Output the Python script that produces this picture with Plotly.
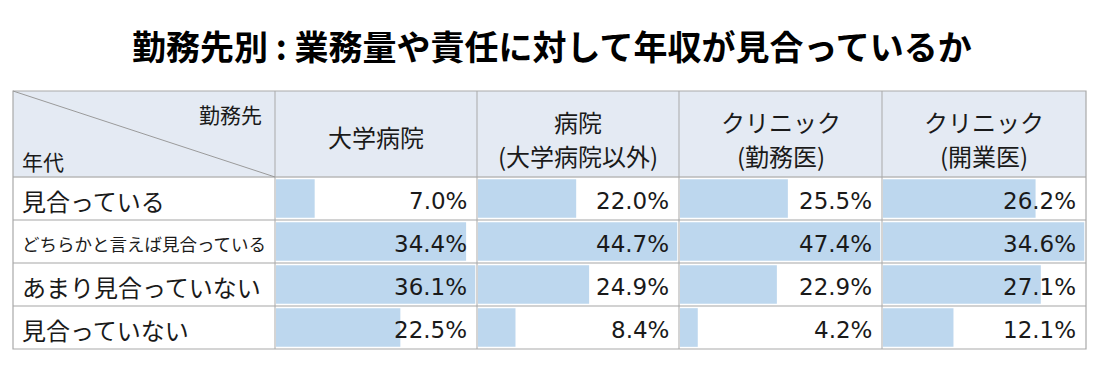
import plotly.graph_objects as go

# ---- data ----
title_text = "勤務先別 : 業務量や責任に対して年収が見合っているか"
corner_top = "勤務先"
corner_bottom = "年代"
columns = ["大学病院", "病院\n(大学病院以外)", "クリニック\n(勤務医)", "クリニック\n(開業医)"]
rows = ["見合っている", "どちらかと言えば見合っている", "あまり見合っていない", "見合っていない"]
univ_hospital = [7.0, 34.4, 36.1, 22.5]
hospital_other = [22.0, 44.7, 24.9, 8.4]
clinic_employed = [25.5, 47.4, 22.9, 4.2]
clinic_owner = [26.2, 34.6, 27.1, 12.1]
series = [univ_hospital, hospital_other, clinic_employed, clinic_owner]

# ---- geometry (page pixels) ----
PAGE_W, PAGE_H = 1101, 383
OFF = 8  # default body margin of the page
W, H = PAGE_W - 2 * OFF, PAGE_H - 2 * OFF
col_edges = [13, 275, 477, 679, 882, 1086]
row_edges = [91, 177, 220, 263, 306, 349]

def px(x):
    return (x - OFF) / W

def py(y):
    return 1 - (y - OFF) / H

BAR = "#bdd7ee"
HEAD_BG = "#e4eaf3"
BORDER = "#a9a9a9"
ROWLINE = "#d2d2d2"
JP = "Noto Sans CJK JP"
NUM = "DejaVu Sans"

fig = go.Figure()

for i, vals in enumerate(series):
    axn = "" if i == 0 else str(i + 1)
    fig.add_trace(go.Bar(
        x=vals, y=rows, orientation="h",
        marker=dict(color=BAR, line=dict(width=0)),
        xaxis="x" + axn, yaxis="y", hoverinfo="skip", showlegend=False,
    ))
    fig.update_layout(**{
        "xaxis" + axn: dict(
            domain=[px(col_edges[i + 1] + 1), px(col_edges[i + 2] - 1.5)],
            range=[0, max(vals)], visible=False, fixedrange=True,
            anchor="y",
        )
    })
    for r, v in zip(rows, vals):
        fig.add_annotation(
            x=1, xref="x" + axn + " domain", y=r, yref="y",
            text=f"{v:.1f}%", showarrow=False, xanchor="right",
            xshift=-7, yshift=-2,
            font=dict(family=NUM, size=23, color="#1a1a1a"),
        )

fig.update_layout(
    yaxis=dict(
        domain=[py(row_edges[5]), py(row_edges[1])],
        categoryorder="array", categoryarray=rows, autorange="reversed",
        visible=False, fixedrange=True,
    ),
    bargap=0.1,
)

shapes = []
shapes.append(dict(type="rect", xref="paper", yref="paper", layer="below",
                   x0=px(col_edges[0]), x1=px(col_edges[-1]),
                   y0=py(row_edges[1]), y1=py(row_edges[0]),
                   fillcolor=HEAD_BG, line=dict(width=0)))
for yy in row_edges[2:5]:
    shapes.append(dict(type="line", xref="paper", yref="paper", layer="above",
                       x0=px(col_edges[0]), x1=px(col_edges[-1]), y0=py(yy), y1=py(yy),
                       line=dict(color=ROWLINE, width=2)))
shapes.append(dict(type="line", xref="paper", yref="paper", layer="above",
                   x0=px(col_edges[0]), x1=px(col_edges[-1]),
                   y0=py(row_edges[1]), y1=py(row_edges[1]),
                   line=dict(color="#b8b8b8", width=1.5)))
for xx in col_edges[1:-1]:
    shapes.append(dict(type="line", xref="paper", yref="paper", layer="above",
                       x0=px(xx), x1=px(xx), y0=py(row_edges[0]), y1=py(row_edges[-1]),
                       line=dict(color=BORDER, width=1)))
shapes.append(dict(type="rect", xref="paper", yref="paper", layer="above",
                   x0=px(col_edges[0]), x1=px(col_edges[-1]),
                   y0=py(row_edges[-1]), y1=py(row_edges[0]),
                   line=dict(color=BORDER, width=1.2)))
shapes.append(dict(type="line", xref="paper", yref="paper", layer="above",
                   x0=px(col_edges[0]), x1=px(col_edges[1]),
                   y0=py(row_edges[0]), y1=py(row_edges[1]),
                   line=dict(color="#9a9a9a", width=1)))
fig.update_layout(shapes=shapes)

def ann(text, x, y, size, anchor="center", bold=False, color="#1a1a1a"):
    fig.add_annotation(
        x=px(x), y=py(y), xref="paper", yref="paper", text=text,
        showarrow=False, xanchor=anchor, yanchor="middle",
        font=dict(family=JP, size=size, color=color,
                  weight="bold" if bold else "normal"),
    )

ann(title_text, 552, 45, 34, bold=True, color="#000000")
ann(corner_top, 264, 114, 21, anchor="right")
ann(corner_bottom, 20, 161, 21, anchor="left")
for i, c in enumerate(columns):
    cx = (col_edges[i + 1] + col_edges[i + 2]) / 2
    parts = c.split("\n")
    if len(parts) == 1:
        ann(parts[0], cx, 136, 24)
    else:
        ann(parts[0], cx, 121, 24)
        ann(parts[1], cx, 155, 24)
for j, r in enumerate(rows):
    cy = (row_edges[j + 1] + row_edges[j + 2]) / 2 + 2
    size = 17.5 if len(r) > 10 else 24
    ann(r, 20, cy, size, anchor="left")

fig.update_layout(
    width=W, height=H, margin=dict(l=0, r=0, t=0, b=0),
    paper_bgcolor="white", plot_bgcolor="rgba(0,0,0,0)",
    font=dict(family=JP),
)
fig.write_html("out.html")
